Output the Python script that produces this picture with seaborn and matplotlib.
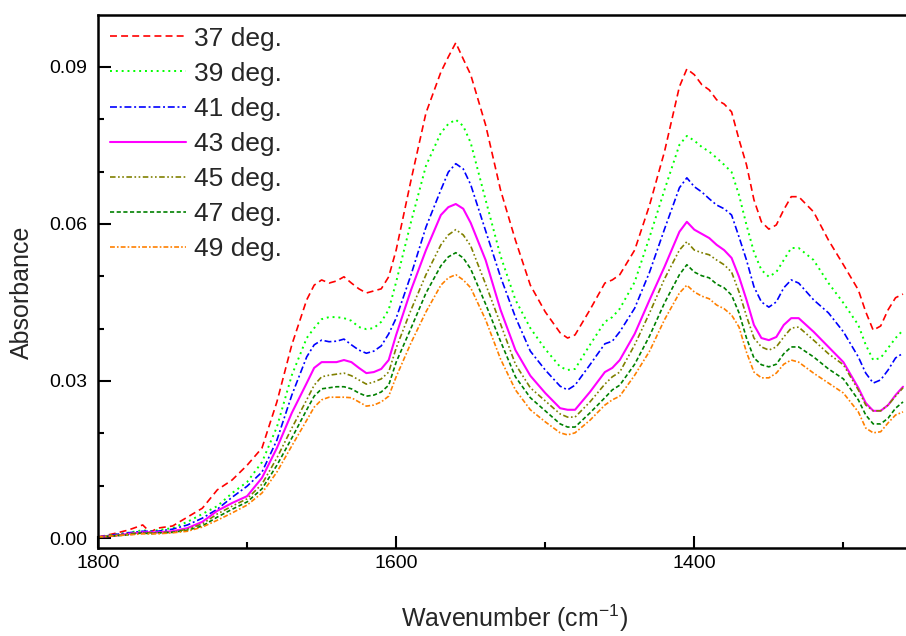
import numpy as np
import pandas as pd
import seaborn as sns
import matplotlib.pyplot as plt
from matplotlib.ticker import MultipleLocator

# wavenumber grid (cm-1)
wavenumber = [1800, 1790, 1780, 1770, 1765, 1760, 1750, 1740, 1730, 1720,
              1710, 1700, 1690, 1680, 1670, 1660, 1655, 1650, 1645, 1640,
              1635, 1630, 1625, 1620, 1615, 1610, 1605, 1600, 1590, 1580,
              1570, 1565, 1560, 1555, 1550, 1540, 1530, 1520, 1510, 1500,
              1490, 1485, 1480, 1470, 1460, 1455, 1450, 1440, 1430, 1420,
              1410, 1405, 1400, 1395, 1390, 1385, 1380, 1375, 1370, 1365,
              1360, 1355, 1350, 1345, 1340, 1335, 1330, 1320, 1310, 1300,
              1290, 1285, 1280, 1275, 1270, 1265, 1260]

abs_37 = [0.0002, 0.0008, 0.0015, 0.0025, 0.0011, 0.0019, 0.0023, 0.0040, 0.0057, 0.0092,
          0.0111, 0.0139, 0.0172, 0.0260, 0.0369, 0.0455, 0.0483, 0.0493, 0.0487, 0.0491,
          0.0499, 0.0487, 0.0476, 0.0468, 0.0472, 0.0476, 0.0499, 0.0550, 0.0684, 0.0812,
          0.0890, 0.0919, 0.0946, 0.0915, 0.0885, 0.0789, 0.0665, 0.0569, 0.0483, 0.0432,
          0.0392, 0.0382, 0.0388, 0.0436, 0.0487, 0.0493, 0.0503, 0.0550, 0.0636, 0.0738,
          0.0862, 0.0896, 0.0885, 0.0866, 0.0856, 0.0837, 0.0829, 0.0814, 0.0761, 0.0713,
          0.0646, 0.0604, 0.0590, 0.0598, 0.0627, 0.0652, 0.0652, 0.0623, 0.0569, 0.0522,
          0.0474, 0.0432, 0.0397, 0.0405, 0.0436, 0.0459, 0.0466]

abs_39 = [0.0002, 0.0006, 0.0010, 0.0015, 0.0013, 0.0015, 0.0019, 0.0031, 0.0046, 0.0061,
          0.0086, 0.0107, 0.0145, 0.0212, 0.0311, 0.0382, 0.0401, 0.0418, 0.0422, 0.0422,
          0.0420, 0.0415, 0.0403, 0.0399, 0.0401, 0.0413, 0.0436, 0.0489, 0.0604, 0.0711,
          0.0774, 0.0791, 0.0799, 0.0787, 0.0755, 0.0646, 0.0539, 0.0455, 0.0401, 0.0361,
          0.0327, 0.0321, 0.0323, 0.0369, 0.0413, 0.0422, 0.0438, 0.0489, 0.0575, 0.0665,
          0.0751, 0.0768, 0.0759, 0.0747, 0.0738, 0.0726, 0.0713, 0.0699, 0.0655, 0.0598,
          0.0546, 0.0512, 0.0499, 0.0508, 0.0531, 0.0554, 0.0554, 0.0531, 0.0487, 0.0449,
          0.0407, 0.0369, 0.0340, 0.0344, 0.0363, 0.0382, 0.0397]

abs_41 = [0.0002, 0.0006, 0.0010, 0.0013, 0.0013, 0.0013, 0.0017, 0.0025, 0.0038, 0.0055,
          0.0078, 0.0099, 0.0126, 0.0187, 0.0273, 0.0346, 0.0369, 0.0378, 0.0375, 0.0376,
          0.0380, 0.0369, 0.0359, 0.0353, 0.0357, 0.0367, 0.0390, 0.0420, 0.0503, 0.0594,
          0.0665, 0.0699, 0.0715, 0.0705, 0.0675, 0.0587, 0.0499, 0.0422, 0.0357, 0.0321,
          0.0290, 0.0283, 0.0292, 0.0331, 0.0371, 0.0376, 0.0394, 0.0439, 0.0508, 0.0590,
          0.0669, 0.0688, 0.0671, 0.0661, 0.0648, 0.0636, 0.0629, 0.0617, 0.0575, 0.0531,
          0.0480, 0.0451, 0.0441, 0.0451, 0.0478, 0.0493, 0.0487, 0.0455, 0.0430, 0.0394,
          0.0346, 0.0315, 0.0296, 0.0302, 0.0321, 0.0344, 0.0353]

abs_43 = [0.0002, 0.0004, 0.0008, 0.0011, 0.0011, 0.0011, 0.0013, 0.0019, 0.0031, 0.0052,
          0.0067, 0.0080, 0.0115, 0.0172, 0.0239, 0.0296, 0.0325, 0.0336, 0.0336, 0.0336,
          0.0340, 0.0336, 0.0325, 0.0315, 0.0317, 0.0323, 0.0340, 0.0388, 0.0474, 0.0550,
          0.0617, 0.0632, 0.0638, 0.0629, 0.0602, 0.0531, 0.0436, 0.0359, 0.0310, 0.0277,
          0.0248, 0.0245, 0.0245, 0.0279, 0.0317, 0.0325, 0.0340, 0.0390, 0.0455, 0.0518,
          0.0585, 0.0604, 0.0589, 0.0581, 0.0573, 0.0560, 0.0550, 0.0535, 0.0499, 0.0455,
          0.0407, 0.0382, 0.0378, 0.0384, 0.0407, 0.0420, 0.0420, 0.0394, 0.0365, 0.0336,
          0.0287, 0.0258, 0.0243, 0.0243, 0.0254, 0.0273, 0.0289]

abs_45 = [0.0002, 0.0004, 0.0008, 0.0010, 0.0010, 0.0010, 0.0011, 0.0017, 0.0027, 0.0046,
          0.0061, 0.0075, 0.0103, 0.0153, 0.0210, 0.0264, 0.0292, 0.0308, 0.0311, 0.0313,
          0.0315, 0.0310, 0.0302, 0.0294, 0.0298, 0.0304, 0.0317, 0.0363, 0.0436, 0.0503,
          0.0560, 0.0579, 0.0589, 0.0579, 0.0558, 0.0485, 0.0409, 0.0332, 0.0287, 0.0262,
          0.0237, 0.0231, 0.0231, 0.0260, 0.0294, 0.0308, 0.0317, 0.0369, 0.0430, 0.0495,
          0.0550, 0.0566, 0.0550, 0.0545, 0.0541, 0.0531, 0.0522, 0.0508, 0.0470, 0.0424,
          0.0382, 0.0365, 0.0359, 0.0365, 0.0384, 0.0401, 0.0403, 0.0378, 0.0352, 0.0331,
          0.0283, 0.0254, 0.0243, 0.0243, 0.0254, 0.0271, 0.0287]

abs_47 = [0.0002, 0.0004, 0.0006, 0.0010, 0.0008, 0.0010, 0.0011, 0.0015, 0.0023, 0.0040,
          0.0055, 0.0069, 0.0094, 0.0139, 0.0191, 0.0245, 0.0271, 0.0285, 0.0287, 0.0289,
          0.0289, 0.0285, 0.0277, 0.0271, 0.0273, 0.0279, 0.0292, 0.0336, 0.0401, 0.0468,
          0.0520, 0.0537, 0.0545, 0.0535, 0.0514, 0.0447, 0.0376, 0.0308, 0.0268, 0.0243,
          0.0218, 0.0212, 0.0212, 0.0239, 0.0268, 0.0283, 0.0292, 0.0332, 0.0386, 0.0449,
          0.0503, 0.0522, 0.0508, 0.0501, 0.0497, 0.0485, 0.0478, 0.0464, 0.0430, 0.0382,
          0.0344, 0.0331, 0.0327, 0.0332, 0.0352, 0.0365, 0.0365, 0.0346, 0.0323, 0.0304,
          0.0264, 0.0235, 0.0218, 0.0218, 0.0229, 0.0248, 0.0260]

abs_49 = [0.0002, 0.0004, 0.0006, 0.0008, 0.0008, 0.0008, 0.0010, 0.0013, 0.0021, 0.0034,
          0.0048, 0.0063, 0.0086, 0.0126, 0.0176, 0.0225, 0.0250, 0.0264, 0.0269, 0.0269,
          0.0269, 0.0268, 0.0260, 0.0252, 0.0254, 0.0260, 0.0271, 0.0308, 0.0373, 0.0432,
          0.0483, 0.0497, 0.0503, 0.0493, 0.0478, 0.0417, 0.0342, 0.0283, 0.0245, 0.0222,
          0.0201, 0.0197, 0.0201, 0.0225, 0.0254, 0.0264, 0.0271, 0.0311, 0.0357, 0.0417,
          0.0468, 0.0483, 0.0470, 0.0462, 0.0457, 0.0445, 0.0438, 0.0426, 0.0403, 0.0355,
          0.0317, 0.0306, 0.0306, 0.0315, 0.0332, 0.0340, 0.0336, 0.0315, 0.0296, 0.0277,
          0.0241, 0.0210, 0.0201, 0.0203, 0.0220, 0.0235, 0.0241]

labels = ["37 deg.", "39 deg.", "41 deg.", "43 deg.", "45 deg.", "47 deg.", "49 deg."]
series = [abs_37, abs_39, abs_41, abs_43, abs_45, abs_47, abs_49]

colors = ["#FF0000", "#00FF00", "#0000FF", "#FF00FF", "#808000", "#008000", "#FF8000"]
styles = [(0, (5, 3)),
          (0, (1.4, 2.8)),
          (0, (5, 2, 1.4, 2)),
          "-",
          (0, (4, 1.8, 1.2, 1.8, 1.2, 1.8)),
          (0, (3, 1.8)),
          (0, (3.5, 1.5, 1.2, 1.5))]
widths = [1.2, 1.4, 1.2, 1.5, 1.2, 1.2, 1.2]

df = pd.concat(
    [pd.DataFrame({"wavenumber": wavenumber, "absorbance": s, "temp": lab})
     for s, lab in zip(series, labels)],
    ignore_index=True,
)

sns.set_style("white")
plt.rcParams["font.family"] = ["Liberation Sans", "DejaVu Sans"]
plt.rcParams["lines.scale_dashes"] = False

fig = plt.figure(figsize=(9.06, 6.36), dpi=100)
ax = fig.add_axes([98 / 906, 1 - 548 / 636, 1 - 98 / 906, (548 - 15) / 636])

for lab, col, ls, lw in zip(labels, colors, styles, widths):
    sub = df[df["temp"] == lab]
    sns.lineplot(data=sub, x="wavenumber", y="absorbance", ax=ax, color=col,
                 linestyle=ls, linewidth=lw, label=lab, sort=False)

ax.set_xlim(1800, 1258)
ax.set_ylim(-0.0019, 0.0999)

ax.xaxis.set_major_locator(MultipleLocator(200))
ax.xaxis.set_minor_locator(MultipleLocator(100))
ax.yaxis.set_major_locator(MultipleLocator(0.03))
ax.yaxis.set_minor_locator(MultipleLocator(0.01))
ax.yaxis.set_major_formatter(plt.FuncFormatter(lambda v, p: f"{v:.2f}"))

ax.tick_params(which="both", direction="in", width=1.5, colors="black",
               labelsize=14, bottom=True, left=True, top=False, right=False)
ax.tick_params(which="major", length=9)
ax.tick_params(which="minor", length=4.5)
ax.tick_params(axis="y", pad=8)
ax.tick_params(axis="x", pad=5)

for side in ["top", "left", "bottom"]:
    ax.spines[side].set_linewidth(1.8)
    ax.spines[side].set_color("black")
ax.spines["right"].set_visible(False)

ax.set_xlabel("Wavenumber (cm$^{\\mathregular{-1}}$)", fontsize=18)
ax.set_ylabel("Absorbance", fontsize=18)
ax.xaxis.set_label_coords(0.515, -0.103)
ax.yaxis.set_label_coords(-0.079, 0.48)

ax.legend(loc="upper left", bbox_to_anchor=(0.0, 1.0), frameon=False,
          fontsize=19, handlelength=2.9, handletextpad=0.3, labelspacing=0.42,
          borderaxespad=0.14, borderpad=0.3)

fig.savefig("out.png", dpi=100, facecolor="white")
